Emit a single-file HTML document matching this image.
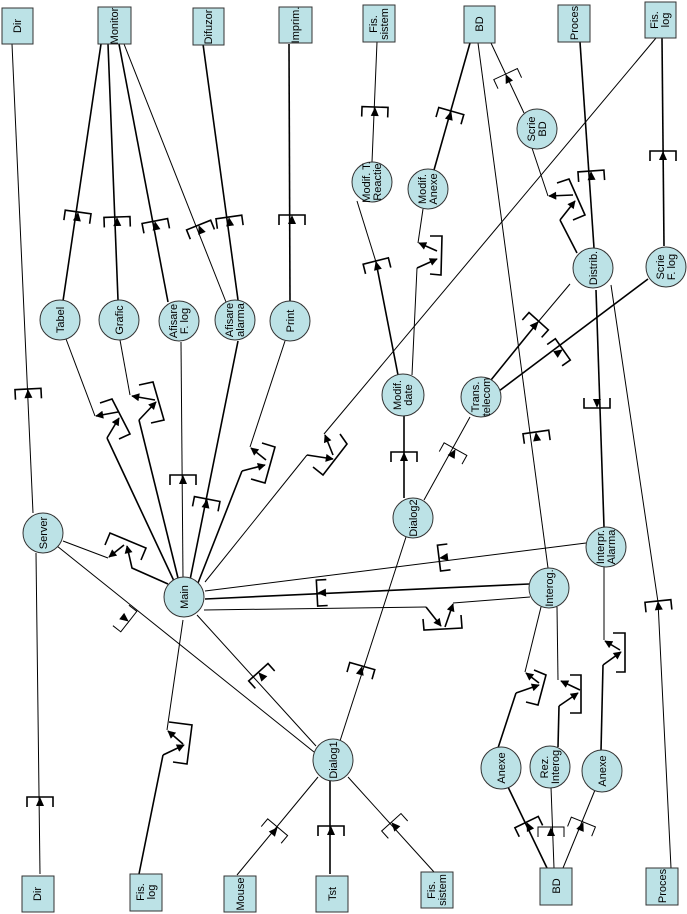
<!DOCTYPE html>
<html><head><meta charset="utf-8"><style>
html,body{margin:0;padding:0;background:#fff}
svg{display:block}
text{font-family:"Liberation Sans",Arial,sans-serif;font-size:11px;fill:#000}
.n{fill:#bce2e6;stroke:#333;stroke-width:1}
.l{stroke:#000;stroke-width:1;fill:none}
.t{stroke:#000;stroke-width:1.6;fill:none}
.b{stroke:#000;stroke-width:1.6;fill:none}
</style></head><body>
<svg width="687" height="914" viewBox="0 0 687 914" xmlns="http://www.w3.org/2000/svg">
<defs>
<marker id="m" viewBox="0 0 10 10" refX="9" refY="5" markerWidth="9" markerHeight="8" markerUnits="userSpaceOnUse" orient="auto"><path d="M0,0 L10,5 L0,10 z" fill="#000"/></marker>
<g id="c"><path d="M-13,9 V-1 H13 V9" fill="none" stroke="#000" stroke-width="1.6"/><polygon points="0,-1 -4,8 4,8" fill="#000"/></g>
<g id="d"><path d="M-13,9 V-1 H13 V9" fill="none" stroke="#000" stroke-width="1"/><polygon points="0,-1 -4,8 4,8" fill="#000"/></g>
</defs>

<g class="l">
<line x1="12" y1="44" x2="33" y2="513"/>
<line x1="36" y1="553" x2="40" y2="874"/>
<line x1="57" y1="546" x2="314" y2="752"/>
<line x1="656" y1="38" x2="324" y2="434"/>
<line x1="124" y1="44" x2="226" y2="302"/>
<line x1="181" y1="342" x2="183" y2="578"/>
<line x1="586" y1="543" x2="205" y2="591"/>
<line x1="197" y1="615" x2="316" y2="746"/>
<line x1="406" y1="537" x2="340" y2="741"/>
<line x1="424" y1="500" x2="470" y2="417"/>
<line x1="372" y1="162" x2="377" y2="42"/>
<line x1="524" y1="113" x2="491" y2="43"/>
<line x1="478" y1="43" x2="548" y2="568"/>
<line x1="570" y1="284" x2="538" y2="322"/>
<polyline points="611,285 658,602 671,868"/>
<line x1="551" y1="787" x2="554" y2="868"/>
<line x1="595" y1="790" x2="563" y2="868"/>
<line x1="237" y1="875" x2="318" y2="777"/>
<line x1="434" y1="872" x2="348" y2="777"/>
<line x1="376" y1="262" x2="357" y2="201"/>
</g>
<g class="t">
<line x1="101" y1="44" x2="63" y2="301"/>
<line x1="108" y1="44" x2="118" y2="300"/>
<line x1="119" y1="44" x2="168" y2="302"/>
<line x1="203" y1="44" x2="238" y2="300"/>
<line x1="289" y1="44" x2="290" y2="301"/>
<line x1="238" y1="341" x2="190" y2="580"/>
<line x1="529" y1="584" x2="205" y2="599"/>
<line x1="404" y1="498" x2="404" y2="416"/>
<line x1="398" y1="375" x2="376" y2="262"/>
<line x1="434" y1="170" x2="470" y2="43"/>
<line x1="594" y1="248" x2="580" y2="42"/>
<line x1="664" y1="246" x2="662" y2="38"/>
<line x1="538" y1="322" x2="491" y2="380"/>
<line x1="648" y1="279" x2="499" y2="391"/>
<line x1="596" y1="290" x2="604" y2="527"/>
<line x1="330" y1="874" x2="330" y2="780"/>
<line x1="547" y1="868" x2="508" y2="787"/>
</g>

<g class="l">
<polyline points="66,339 95,416"/>
<polyline points="120,340 130,395"/>
<polyline points="285,341 250,447"/>
<polyline points="63,541 108,558"/>
<polyline points="183,620 167,730"/>
<polyline points="541,607 525,672"/>
<polyline points="557,607 558,680"/>
<polyline points="604,567 604,640"/>
<polyline points="412,375 417,268"/>
<polyline points="418,243 423,209"/>
<polyline points="532,148 548,196"/>
<polyline points="204,610 426,607"/>
<polyline points="453,603 530,597"/>
<polyline points="205,582 307,455"/>
</g>
<g class="t">
<line x1="174" y1="581" x2="107" y2="438"/>
<line x1="178" y1="578" x2="139" y2="420"/>
<line x1="198" y1="583" x2="242" y2="471"/>
<line x1="163" y1="755" x2="139" y2="874"/>
<line x1="516" y1="693" x2="498" y2="748"/>
<line x1="559" y1="706" x2="558" y2="747"/>
<line x1="603" y1="665" x2="601" y2="751"/>
<line x1="560" y1="220" x2="577" y2="253"/>
</g>
<g class="t" marker-end="url(#m)">
<line x1="118" y1="412" x2="96" y2="416"/>
<line x1="107" y1="438" x2="119" y2="418"/>
<line x1="155" y1="400" x2="132" y2="396"/>
<line x1="139" y1="420" x2="156" y2="402"/>
<line x1="266" y1="460" x2="251" y2="448"/>
<line x1="242" y1="471" x2="265" y2="465"/>
<line x1="124" y1="545" x2="109" y2="557"/>
<polyline points="168,584 132,568 127,546"/>
<line x1="183" y1="744" x2="168" y2="731"/>
<line x1="163" y1="755" x2="184" y2="745"/>
<line x1="539" y1="683" x2="526" y2="673"/>
<line x1="516" y1="693" x2="539" y2="685"/>
<line x1="580" y1="690" x2="561" y2="681"/>
<line x1="559" y1="706" x2="578" y2="693"/>
<line x1="620" y1="650" x2="605" y2="641"/>
<line x1="603" y1="665" x2="621" y2="652"/>
<line x1="417" y1="268" x2="437" y2="259"/>
<line x1="437" y1="251" x2="419" y2="243"/>
<line x1="573" y1="195" x2="549" y2="196"/>
<line x1="560" y1="220" x2="575" y2="201"/>
<line x1="426" y1="607" x2="441" y2="626"/>
<line x1="445" y1="627" x2="453" y2="604"/>
<line x1="333" y1="455" x2="325" y2="435"/>
<line x1="307" y1="455" x2="333" y2="459"/>
</g>
<g class="b">
<polyline points="100,403 112,399 130,434 119,439"/>
<polyline points="139,385 153,382 164,420 151,423"/>
<polyline points="262,443 275,447 265,483 251,479"/>
<polyline points="105,545 110,533 146,548 141,560"/>
<polyline points="169,722 192,725 187,764 173,762"/>
<polyline points="534,670 546,675 538,705 526,702"/>
<polyline points="570,675 581,675 581,713 570,713"/>
<polyline points="613,633 625,633 625,672 616,672"/>
<polyline points="430,236 442,236 441,275 430,274"/>
<polyline points="557,183 569,179 585,215 573,220"/>
<polyline points="423,619 424,630 462,628 461,615"/>
<polyline points="340,434 347,444 323,475 313,467"/>
</g>

<use href="#c" transform="translate(28,390) rotate(-3)"/>
<use href="#c" transform="translate(40,798)"/>
<use href="#c" transform="translate(78,213) rotate(8)"/>
<use href="#c" transform="translate(117,218) rotate(-2)"/>
<use href="#c" transform="translate(155,222) rotate(-11)"/>
<use href="#c" transform="translate(199,226) rotate(-22)"/>
<use href="#c" transform="translate(229,218) rotate(-8)"/>
<use href="#c" transform="translate(292,216)"/>
<use href="#c" transform="translate(183,476)"/>
<use href="#c" transform="translate(207,500) rotate(11)"/>
<use href="#d" transform="translate(128,621) rotate(128)"/>
<use href="#c" transform="translate(259,673) rotate(-42)"/>
<use href="#c" transform="translate(362,667) rotate(16)"/>
<use href="#c" transform="translate(440,558) rotate(-97)"/>
<use href="#c" transform="translate(318,593) rotate(-93)"/>
<use href="#c" transform="translate(404,453)"/>
<use href="#d" transform="translate(455,450) rotate(29)"/>
<use href="#c" transform="translate(376,262) rotate(-14)"/>
<use href="#c" transform="translate(375,108) rotate(2)"/>
<use href="#c" transform="translate(451,112) rotate(16)"/>
<use href="#d" transform="translate(506,75) rotate(-25)"/>
<use href="#c" transform="translate(591,172) rotate(-4)"/>
<use href="#c" transform="translate(663,152)"/>
<use href="#c" transform="translate(538,322) rotate(42)"/>
<use href="#c" transform="translate(562,350) rotate(55)"/>
<use href="#c" transform="translate(536,433) rotate(-8)"/>
<use href="#c" transform="translate(597,407) rotate(180)"/>
<use href="#c" transform="translate(658,602) rotate(-6)"/>
<use href="#c" transform="translate(527,823) rotate(-26)"/>
<use href="#d" transform="translate(551,828)"/>
<use href="#d" transform="translate(583,823) rotate(22)"/>
<use href="#d" transform="translate(277,828) rotate(40)"/>
<use href="#c" transform="translate(331,827)"/>
<use href="#d" transform="translate(392,823) rotate(-42)"/>

<g class="n">
<rect x="2" y="8" width="31" height="36"/>
<rect x="98" y="7" width="33" height="37"/>
<rect x="193" y="8" width="31" height="37"/>
<rect x="279" y="7" width="33" height="36"/>
<rect x="363" y="5" width="32" height="37"/>
<rect x="464" y="6" width="31" height="37"/>
<rect x="558" y="5" width="32" height="37"/>
<rect x="645" y="2" width="31" height="36"/>
<rect x="22" y="876" width="32" height="36"/>
<rect x="130" y="874" width="32" height="37"/>
<rect x="224" y="876" width="32" height="36"/>
<rect x="316" y="876" width="32" height="36"/>
<rect x="421" y="872" width="32" height="36"/>
<rect x="540" y="868" width="32" height="37"/>
<rect x="646" y="868" width="32" height="37"/>
</g>
<g class="n">
<circle cx="60" cy="320" r="20"/>
<circle cx="119" cy="320" r="20"/>
<circle cx="179" cy="321" r="20"/>
<circle cx="235" cy="320" r="20"/>
<circle cx="290" cy="321" r="20"/>
<circle cx="372" cy="182" r="20"/>
<circle cx="428" cy="189" r="20"/>
<circle cx="537" cy="129" r="20"/>
<circle cx="593" cy="268" r="20"/>
<circle cx="666" cy="267" r="20"/>
<circle cx="403" cy="395" r="21"/>
<circle cx="481" cy="397" r="20"/>
<circle cx="43" cy="533" r="20"/>
<circle cx="184" cy="597" r="20"/>
<circle cx="413" cy="518" r="20"/>
<circle cx="606" cy="547" r="20"/>
<circle cx="549" cy="588" r="20"/>
<ellipse cx="333" cy="760" rx="20" ry="21"/>
<ellipse cx="501" cy="768" rx="20" ry="21"/>
<ellipse cx="550" cy="767" rx="20" ry="21"/>
<ellipse cx="602" cy="771" rx="20" ry="21"/>
</g>

<g text-anchor="middle">
<text transform="translate(21,26) rotate(-90)">Dir</text>
<text transform="translate(118,26) rotate(-90)">Monitor</text>
<text transform="translate(212,27) rotate(-90)">Difuzor</text>
<text transform="translate(299,25) rotate(-90)">Imprim.</text>
<text transform="translate(379,24) rotate(-90)"><tspan x="0" y="-2">Fis.</tspan><tspan x="0" y="9">sistem</tspan></text>
<text transform="translate(483,24) rotate(-90)">BD</text>
<text transform="translate(578,23) rotate(-90)">Proces</text>
<text transform="translate(660,20) rotate(-90)"><tspan x="0" y="-2">Fis.</tspan><tspan x="0" y="9">log</tspan></text>
<text transform="translate(41,894) rotate(-90)">Dir</text>
<text transform="translate(146,892) rotate(-90)"><tspan x="0" y="-2">Fis.</tspan><tspan x="0" y="9">log</tspan></text>
<text transform="translate(244,894) rotate(-90)">Mouse</text>
<text transform="translate(336,894) rotate(-90)">Tst</text>
<text transform="translate(437,890) rotate(-90)"><tspan x="0" y="-2">Fis.</tspan><tspan x="0" y="9">sistem</tspan></text>
<text transform="translate(560,886) rotate(-90)">BD</text>
<text transform="translate(666,886) rotate(-90)">Proces</text>

<text transform="translate(64,320) rotate(-90)">Tabel</text>
<text transform="translate(123,320) rotate(-90)">Grafic</text>
<text transform="translate(179,321) rotate(-90)"><tspan x="0" y="-2">Afisare</tspan><tspan x="0" y="9">F. log</tspan></text>
<text transform="translate(235,320) rotate(-90)"><tspan x="0" y="-2">Afisare</tspan><tspan x="0" y="9">alarma</tspan></text>
<text transform="translate(294,321) rotate(-90)">Print</text>
<text transform="translate(372,182) rotate(-90)"><tspan x="0" y="-2">Modif. T.</tspan><tspan x="0" y="9">Reactie</tspan></text>
<text transform="translate(428,189) rotate(-90)"><tspan x="0" y="-2">Modif.</tspan><tspan x="0" y="9">Anexe</tspan></text>
<text transform="translate(537,129) rotate(-90)"><tspan x="0" y="-2">Scrie</tspan><tspan x="0" y="9">BD</tspan></text>
<text transform="translate(597,268) rotate(-90)">Distrib.</text>
<text transform="translate(666,267) rotate(-90)"><tspan x="0" y="-2">Scrie</tspan><tspan x="0" y="9">F. log</tspan></text>
<text transform="translate(403,395) rotate(-90)"><tspan x="0" y="-2">Modif.</tspan><tspan x="0" y="9">date</tspan></text>
<text transform="translate(481,397) rotate(-90)"><tspan x="0" y="-2">Trans.</tspan><tspan x="0" y="9">telecom</tspan></text>
<text transform="translate(47,533) rotate(-90)">Server</text>
<text transform="translate(188,597) rotate(-90)">Main</text>
<text transform="translate(417,518) rotate(-90)">Dialog2</text>
<text transform="translate(606,547) rotate(-90)"><tspan x="0" y="-2">Interpr.</tspan><tspan x="0" y="9">Alarma</tspan></text>
<text transform="translate(553,588) rotate(-90)">Interog.</text>
<text transform="translate(337,760) rotate(-90)">Dialog1</text>
<text transform="translate(505,768) rotate(-90)">Anexe</text>
<text transform="translate(550,767) rotate(-90)"><tspan x="0" y="-2">Rez.</tspan><tspan x="0" y="9">Interog</tspan></text>
<text transform="translate(606,771) rotate(-90)">Anexe</text>
</g>
</svg>
</body></html>
